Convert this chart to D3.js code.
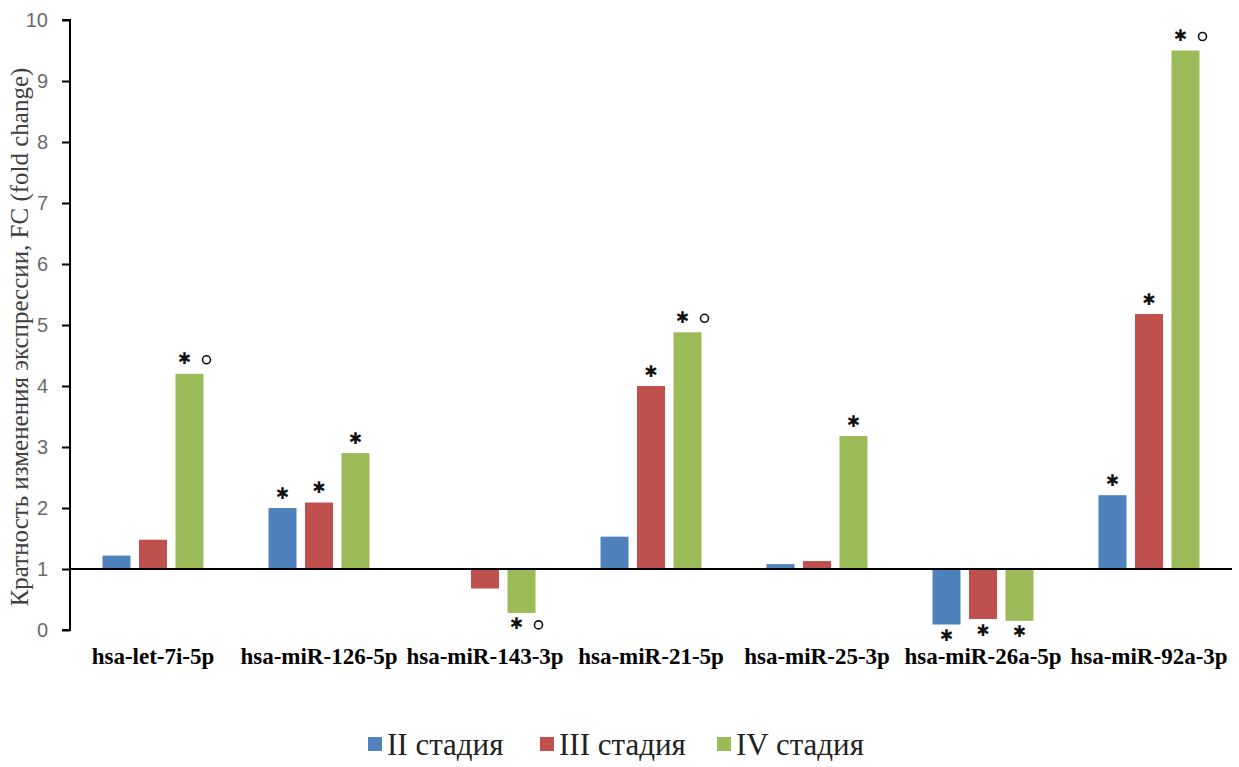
<!DOCTYPE html>
<html>
<head>
<meta charset="utf-8">
<script src="https://cdn.jsdelivr.net/npm/d3@7"></script>
<style>
  html, body { margin: 0; padding: 0; background: #fff; }
  svg { display: block; }
  .serif { font-family: "Liberation Serif", "Times New Roman", "DejaVu Serif", serif; }
</style>
</head>
<body>
<svg id="chart" width="1239" height="767"></svg>
<script>
// --- data ---
const categories = [
  "hsa-let-7i-5p", "hsa-miR-126-5p", "hsa-miR-143-3p", "hsa-miR-21-5p",
  "hsa-miR-25-3p", "hsa-miR-26a-5p", "hsa-miR-92a-3p"
];
const seriesNames = ["II стадия", "III стадия", "IV стадия"];
const seriesColors = ["#4f81bd", "#c0504d", "#9bbb59"];

const stageII  = [1.22, 2.00, 1.00, 1.53, 1.08, 0.09, 2.21];
const stageIII = [1.48, 2.09, 0.68, 4.00, 1.13, 0.18, 5.18];
const stageIV  = [4.20, 2.90, 0.28, 4.88, 3.18, 0.15, 9.50];

// significance marks: "*" = star, "*o" = star + circle
const marksII  = ["", "*", "", "", "", "*", "*"];
const marksIII = ["", "*", "", "*", "", "*", "*"];
const marksIV  = ["*o", "*", "*o", "*o", "*", "*", "*o"];

const yTicks = [0, 1, 2, 3, 4, 5, 6, 7, 8, 9, 10];
const baseline = 1;
const yTitle = "Кратность изменения экспрессии, FC (fold change)";

// --- layout ---
const svg = d3.select("#chart");
const plotLeft = 70, plotRight = 1232, plotTop = 20, plotBottom = 630;

const x = d3.scaleBand().domain(categories).range([plotLeft, plotRight]).padding(0);
const xSub = d3.scaleBand()
  .domain(seriesNames)
  .range([-54.75, 54.75])
  .paddingInner(0.233)
  .paddingOuter(0.1165);
const y = d3.scaleLinear().domain([0, 10]).range([plotBottom, plotTop]);

const allSeries = [stageII, stageIII, stageIV];
const allMarks = [marksII, marksIII, marksIV];

// flatten into bar records
const bars = [];
categories.forEach((c, i) => {
  seriesNames.forEach((s, j) => {
    bars.push({ cat: c, series: s, color: seriesColors[j], value: allSeries[j][i], mark: allMarks[j][i] });
  });
});

const barX = (d) => x(d.cat) + x.bandwidth() / 2 + xSub(d.series);

// bars grow up or down from the baseline (FC = 1)
svg.append("g")
  .selectAll("rect")
  .data(bars)
  .join("rect")
  .attr("x", barX)
  .attr("width", xSub.bandwidth())
  .attr("y", (d) => y(Math.max(d.value, baseline)))
  .attr("height", (d) => Math.abs(y(d.value) - y(baseline)))
  .attr("fill", (d) => d.color);

// y axis
const yAxis = svg.append("g")
  .attr("transform", `translate(${plotLeft},0)`)
  .call(d3.axisLeft(y).tickValues(yTicks).tickSize(8).tickPadding(14).tickFormat(d3.format("d")));
yAxis.select(".domain").attr("stroke", "#000").attr("stroke-width", 2)
  .attr("d", `M-8,${y(10)}H0V${y(0)}H-8`);
yAxis.selectAll(".tick line").attr("stroke", "#000").attr("stroke-width", 2);
yAxis.selectAll(".tick text")
  .attr("fill", "#6b6b6b")
  .style("font-family", "'Liberation Sans', Arial, sans-serif")
  .attr("font-size", 20);

// baseline line at FC = 1
svg.append("line")
  .attr("x1", plotLeft).attr("x2", plotRight)
  .attr("y1", y(baseline)).attr("y2", y(baseline))
  .attr("stroke", "#000").attr("stroke-width", 2);

// y title
svg.append("text")
  .attr("class", "serif")
  .attr("transform", `translate(28,${(plotTop + plotBottom) / 2 + 12}) rotate(-90)`)
  .attr("text-anchor", "middle")
  .attr("font-size", 25)
  .attr("fill", "#404040")
  .text(yTitle);

// category labels
svg.append("g")
  .selectAll("text")
  .data(categories)
  .join("text")
  .attr("class", "serif")
  .attr("x", (d) => x(d) + x.bandwidth() / 2)
  .attr("y", 664)
  .attr("text-anchor", "middle")
  .attr("font-weight", "bold")
  .attr("font-size", 23)
  .attr("fill", "#000")
  .text((d) => d);

// significance marks above (or below, for down-regulated) bars
const marked = bars.filter((d) => d.mark);
const markG = svg.append("g");
marked.forEach((d) => {
  const cx = barX(d) + xSub.bandwidth() / 2;
  const up = d.value >= baseline;
  const my = up ? y(d.value) - 14 : y(d.value) + 12;
  const hasCircle = d.mark.includes("o");
  const sx = hasCircle ? cx - 5 : cx;
  markG.append("text")
    .attr("x", sx).attr("y", my)
    .attr("text-anchor", "middle")
    .attr("dominant-baseline", "middle")
    .style("font-family", "'DejaVu Sans', sans-serif")
    .attr("font-size", 16)
    .attr("fill", "#111")
    .text("✱");
  if (hasCircle) {
    markG.append("circle")
      .attr("cx", sx + 22).attr("cy", my)
      .attr("r", 4)
      .attr("fill", "none")
      .attr("stroke", "#111")
      .attr("stroke-width", 1.6);
  }
});

// legend
const legendX = [368, 540, 717];
const legend = svg.append("g")
  .selectAll("g")
  .data(seriesNames)
  .join("g")
  .attr("transform", (d, i) => `translate(${legendX[i]},745)`);
legend.append("rect")
  .attr("x", 0).attr("y", -8)
  .attr("width", 14).attr("height", 14)
  .attr("fill", (d, i) => seriesColors[i]);
legend.append("text")
  .attr("class", "serif")
  .attr("x", 19).attr("y", 10)
  .attr("font-size", 31)
  .attr("fill", "#222")
  .text((d) => d);
</script>
</body>
</html>
